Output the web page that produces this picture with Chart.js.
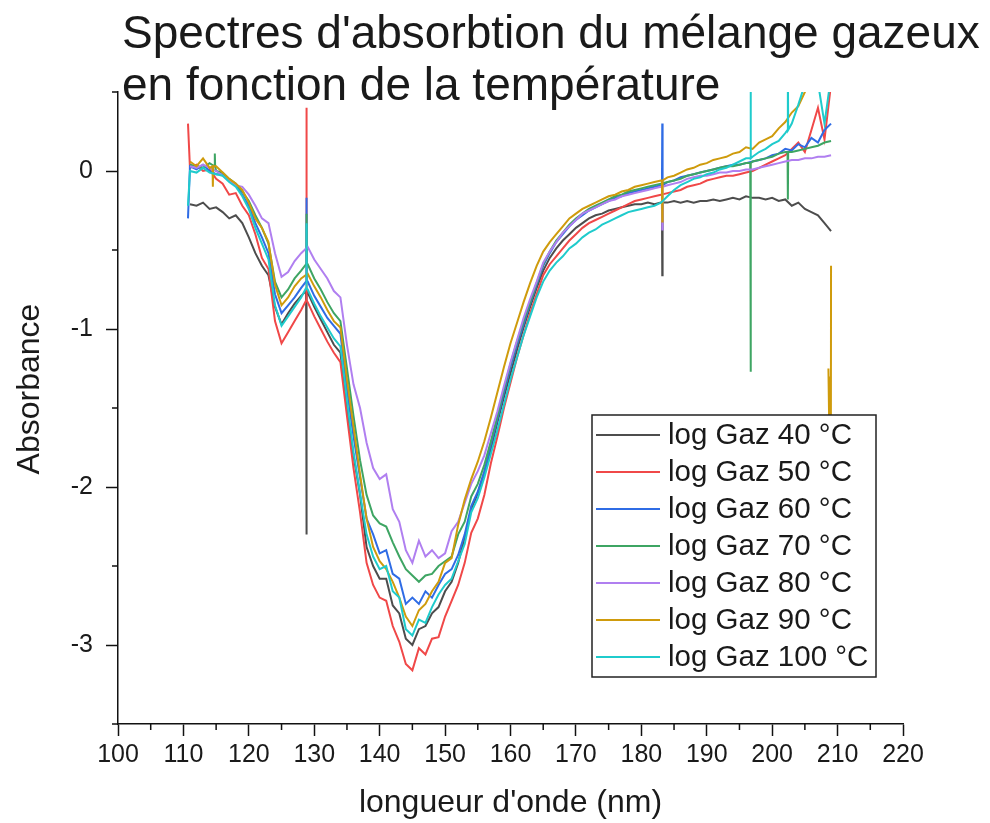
<!DOCTYPE html>
<html>
<head>
<meta charset="utf-8">
<script src="https://cdn.jsdelivr.net/npm/chart.js@4.4.1/dist/chart.umd.min.js"></script>
<style>
  html, body { margin: 0; padding: 0; background: #fff; }
  canvas { display: block; }
</style>
</head>
<body>
<canvas id="spectres" width="990" height="823"></canvas>
<script>
// Longueurs d'onde (nm), pas de 1 nm
const wavelengths = [
  111, 112, 113, 114, 115, 116, 117, 118, 119, 120,
  121, 122, 123, 124, 125, 126, 127, 128, 129, 130,
  131, 132, 133, 134, 135, 136, 137, 138, 139, 140,
  141, 142, 143, 144, 145, 146, 147, 148, 149, 150,
  151, 152, 153, 154, 155, 156, 157, 158, 159, 160,
  161, 162, 163, 164, 165, 166, 167, 168, 169, 170,
  171, 172, 173, 174, 175, 176, 177, 178, 179, 180,
  181, 182, 183, 184, 185, 186, 187, 188, 189, 190,
  191, 192, 193, 194, 195, 196, 197, 198, 199, 200,
  201, 202, 203, 204, 205, 206, 207, 208, 209
];

// Absorbance (log) par température
const gaz40 = [
  -0.21, -0.22, -0.20, -0.24, -0.23, -0.26, -0.30, -0.28, -0.33, -0.42,
  -0.52, -0.60, -0.66, -0.86, -0.97, -0.90, -0.84, -0.79, -0.77, -0.86,
  -0.94, -1.02, -1.10, -1.15, -1.50, -1.80, -2.05, -2.38, -2.50, -2.58,
  -2.58, -2.75, -2.80, -2.96, -3.00, -2.90, -2.88, -2.80, -2.76, -2.66,
  -2.60, -2.48, -2.32, -2.14, -2.04, -1.91, -1.76, -1.59, -1.43, -1.28,
  -1.13, -0.99, -0.86, -0.74, -0.63, -0.55, -0.49, -0.44, -0.40, -0.36,
  -0.33, -0.30, -0.28, -0.27, -0.25, -0.24, -0.23, -0.22, -0.21, -0.21,
  -0.20, -0.21, -0.20, -0.20, -0.19, -0.20, -0.19, -0.20, -0.19, -0.19,
  -0.18, -0.19, -0.18, -0.17, -0.18, -0.16, -0.17, -0.17, -0.18, -0.17,
  -0.19, -0.18, -0.22, -0.20, -0.24, -0.26, -0.28, -0.33, -0.38
];
const gaz50 = [
  0.02, 0.04, 0.00, 0.01, -0.05, -0.08, -0.15, -0.14, -0.22, -0.28,
  -0.40, -0.55, -0.62, -0.95, -1.09, -1.02, -0.95, -0.88, -0.83, -0.92,
  -1.00, -1.08, -1.15, -1.21, -1.55, -1.88, -2.16, -2.48, -2.62, -2.70,
  -2.72, -2.88, -2.98, -3.12, -3.16, -3.02, -3.06, -2.96, -2.95, -2.82,
  -2.72, -2.62, -2.48, -2.29, -2.20, -2.05, -1.85, -1.68, -1.50, -1.34,
  -1.18, -1.04, -0.90, -0.78, -0.66, -0.59, -0.54, -0.49, -0.44, -0.40,
  -0.36, -0.33, -0.31, -0.29, -0.27, -0.25, -0.23, -0.21, -0.19, -0.18,
  -0.17, -0.16, -0.15, -0.14, -0.13, -0.12, -0.10, -0.09, -0.08, -0.06,
  -0.05, -0.04, -0.03, -0.03, -0.02, -0.01, 0.00, 0.02, 0.04, 0.06,
  0.08, 0.10, 0.14, 0.18, 0.12, 0.26, 0.40, 0.20, 0.55
];
const gaz60 = [
  0.03, 0.01, 0.04, 0.00, -0.02, -0.02, -0.06, -0.09, -0.15, -0.22,
  -0.33, -0.42, -0.52, -0.78, -0.90, -0.85, -0.80, -0.74, -0.70, -0.79,
  -0.86, -0.93, -0.98, -1.03, -1.38, -1.68, -1.94, -2.20, -2.30, -2.42,
  -2.40, -2.55, -2.58, -2.74, -2.70, -2.74, -2.66, -2.70, -2.62, -2.55,
  -2.52, -2.43, -2.30, -2.12, -2.03, -1.90, -1.73, -1.57, -1.40, -1.24,
  -1.10, -0.97, -0.84, -0.72, -0.60, -0.52, -0.45, -0.40, -0.35, -0.31,
  -0.28, -0.25, -0.23, -0.21, -0.19, -0.17, -0.16, -0.14, -0.13, -0.12,
  -0.11, -0.10, -0.09, -0.07, -0.06, -0.04, -0.03, -0.02, -0.01, 0.00,
  0.01, 0.02, 0.03, 0.04, 0.04, 0.05, 0.06, 0.07, 0.08, 0.10,
  0.11, 0.14, 0.13, 0.17, 0.15, 0.21, 0.18, 0.26, 0.30
];
const gaz70 = [
  0.04, 0.03, 0.02, 0.05, 0.00, -0.01, -0.05, -0.08, -0.13, -0.19,
  -0.28, -0.36, -0.46, -0.70, -0.80, -0.75, -0.68, -0.63, -0.59, -0.68,
  -0.75, -0.83, -0.90, -0.95, -1.25, -1.55, -1.83, -2.05, -2.18, -2.23,
  -2.25, -2.35, -2.44, -2.52, -2.56, -2.60, -2.56, -2.55, -2.50, -2.47,
  -2.44, -2.30, -2.22, -2.06, -1.98, -1.86, -1.71, -1.55, -1.38, -1.22,
  -1.08, -0.95, -0.83, -0.71, -0.59, -0.51, -0.44, -0.39, -0.34, -0.30,
  -0.27, -0.24, -0.22, -0.20, -0.18, -0.16, -0.15, -0.13, -0.12, -0.11,
  -0.10, -0.09, -0.08, -0.07, -0.06, -0.05, -0.03, -0.02, -0.01, 0.00,
  0.01, 0.02, 0.03, 0.03, 0.04, 0.05, 0.06, 0.07, 0.08, 0.09,
  0.11, 0.12, 0.12, 0.13, 0.14, 0.15, 0.16, 0.18, 0.19
];
const gaz80 = [
  0.03, 0.02, 0.04, 0.02, 0.00, -0.03, -0.06, -0.09, -0.10, -0.15,
  -0.22, -0.30, -0.33, -0.52, -0.67, -0.64, -0.57, -0.52, -0.48, -0.56,
  -0.62, -0.68, -0.76, -0.80, -1.10, -1.35, -1.50, -1.72, -1.88, -1.95,
  -1.92, -2.14, -2.22, -2.40, -2.48, -2.34, -2.44, -2.40, -2.45, -2.42,
  -2.28, -2.22, -2.10, -1.98, -1.90, -1.80, -1.66, -1.52, -1.36, -1.21,
  -1.07, -0.93, -0.81, -0.70, -0.58, -0.51, -0.45, -0.39, -0.35, -0.31,
  -0.27, -0.25, -0.23, -0.21, -0.19, -0.18, -0.16, -0.15, -0.14, -0.13,
  -0.12, -0.11, -0.10, -0.09, -0.08, -0.07, -0.05, -0.04, -0.03, -0.03,
  -0.02, -0.01, -0.01, 0.00, 0.00, 0.01, 0.01, 0.02, 0.03, 0.04,
  0.05, 0.06, 0.07, 0.07, 0.08, 0.08, 0.09, 0.09, 0.10
];
const gaz90 = [
  0.06, 0.03, 0.08, 0.02, 0.03, -0.01, -0.05, -0.08, -0.12, -0.20,
  -0.30, -0.36, -0.45, -0.72, -0.85, -0.80, -0.73, -0.68, -0.65, -0.73,
  -0.80, -0.88, -0.95, -0.99, -1.32, -1.62, -1.92, -2.20, -2.38, -2.47,
  -2.52, -2.60, -2.70, -2.82, -2.88, -2.78, -2.74, -2.66, -2.60, -2.48,
  -2.45, -2.24, -2.08, -1.95, -1.84, -1.71, -1.56, -1.40, -1.24, -1.09,
  -0.96, -0.83, -0.71, -0.60, -0.51, -0.45, -0.40, -0.35, -0.30, -0.27,
  -0.24, -0.22, -0.20, -0.18, -0.16, -0.15, -0.13, -0.12, -0.10, -0.09,
  -0.08, -0.07, -0.06, -0.04, -0.03, -0.01, 0.01, 0.02, 0.04, 0.05,
  0.07, 0.08, 0.09, 0.11, 0.12, 0.15, 0.14, 0.18, 0.20, 0.22,
  0.27, 0.31, 0.37, 0.41, 0.50, 0.56, 0.60, null, -0.60
];
const gaz100 = [
  0.00, -0.01, 0.02, -0.01, -0.02, -0.03, -0.07, -0.10, -0.16, -0.24,
  -0.36, -0.46, -0.56, -0.85, -0.98, -0.92, -0.86, -0.80, -0.75, -0.84,
  -0.92, -0.99, -1.06, -1.11, -1.45, -1.78, -2.04, -2.30, -2.44, -2.52,
  -2.50, -2.66, -2.70, -2.90, -2.94, -2.84, -2.86, -2.76, -2.68, -2.62,
  -2.58, -2.47, -2.36, -2.16, -2.07, -1.94, -1.79, -1.64, -1.48, -1.32,
  -1.18, -1.04, -0.92, -0.80, -0.70, -0.63, -0.58, -0.54, -0.49, -0.46,
  -0.42, -0.39, -0.37, -0.34, -0.32, -0.30, -0.28, -0.26, -0.25, -0.24,
  -0.23, -0.22, -0.20, -0.16, -0.12, -0.09, -0.07, -0.05, -0.04, -0.02,
  -0.01, 0.01, 0.02, 0.04, 0.06, 0.08, 0.09, 0.12, 0.14, 0.17,
  0.19, 0.24, 0.30, 0.42, 0.55, 0.62, 0.56, 0.30, 0.60
];

// Pics isolés (artefacts de mesure) : [longueur d'onde, absorbance]
const spikes40 = [[128.75, -0.76], [128.8, -2.30], [128.85, -0.76], [183.15, -0.20], [183.2, -0.66], [183.25, -0.20]];
const spikes50 = [[110.7, 0.30], [128.75, -0.82], [128.8, 0.40], [128.85, -0.82]];
const spikes60 = [[110.7, -0.30], [128.75, -0.70], [128.8, -0.17], [128.85, -0.70], [183.15, -0.09], [183.2, 0.30], [183.25, -0.09]];
const spikes70 = [[114.75, 0.03], [114.8, 0.11], [114.85, 0.03], [128.75, -0.59], [128.8, -0.27], [128.85, -0.59],
                  [196.65, 0.05], [196.7, -1.27], [196.75, 0.05], [202.35, 0.12], [202.4, -0.18], [202.45, 0.12]];
const spikes80 = [[183.15, -0.10], [183.2, -0.37], [183.25, -0.10]];
const spikes90 = [[114.45, 0.03], [114.5, -0.10], [114.55, 0.03], [183.15, -0.06], [183.2, -0.32], [183.25, -0.06],
                  [208.6, -1.25], [208.7, -1.55], [208.8, -1.30], [208.95, -2.60]];
const spikes100 = [[110.7, -0.22], [128.75, -0.74], [128.8, -0.33], [128.85, -0.74],
                   [196.65, 0.08], [196.7, 0.70], [196.75, 0.08], [202.35, 0.26], [202.4, 0.70], [202.45, 0.26]];

const seriesLabels = ['log Gaz 40 °C', 'log Gaz 50 °C', 'log Gaz 60 °C', 'log Gaz 70 °C',
                      'log Gaz 80 °C', 'log Gaz 90 °C', 'log Gaz 100 °C'];
const seriesValues = [gaz40, gaz50, gaz60, gaz70, gaz80, gaz90, gaz100];
const seriesSpikes = [spikes40, spikes50, spikes60, spikes70, spikes80, spikes90, spikes100];
const seriesColors = ['#4d4d4d', '#f04848', '#2f6ce5', '#3ea563', '#b07ff0', '#cf9b0c', '#1fcbcc'];

const titleLines = ["Spectres d'absorbtion du mélange gazeux", 'en fonction de la température'];
const yAxisTitle = 'Absorbance';
const yMajorTicks = [-3, -2, -1, 0];
const xMinorTicks = [105, 115, 125, 135, 145, 155, 165, 175, 185, 195, 205, 215];
const yMinorTicks = [-3.5, -2.5, -1.5, -0.5, 0.5];

const FONT = "'Liberation Sans', Arial, sans-serif";
const TEXT = '#1a1a1a';

// Fusionne la grille et les pics, triés par longueur d'onde
function buildPoints(values, extras) {
  const pts = wavelengths.map((x, i) => ({ x: x, y: values[i] }));
  extras.forEach(([x, y]) => pts.push({ x: x, y: y }));
  pts.sort((a, b) => a.x - b.x);
  return pts;
}

// Titre, titre vertical, graduations secondaires et légende encadrée
const decorPlugin = {
  id: 'decor',
  afterDatasetsDraw(chart) {
    const ctx = chart.ctx;
    const area = chart.chartArea;
    // légende (par-dessus les courbes)
    const boxLeft = area.left + 474;
    const boxTop = 415;
    const rowH = 37;
    const boxW = 284;
    const boxH = rowH * seriesLabels.length + 3;
    ctx.save();
    ctx.fillStyle = '#fff';
    ctx.fillRect(boxLeft, boxTop, boxW, boxH);
    ctx.strokeStyle = '#222';
    ctx.lineWidth = 1.5;
    ctx.strokeRect(boxLeft, boxTop, boxW, boxH);
    ctx.font = '29.5px ' + FONT;
    ctx.textBaseline = 'middle';
    ctx.textAlign = 'left';
    seriesLabels.forEach((lab, i) => {
      const cy = boxTop + 20 + i * rowH;
      ctx.strokeStyle = seriesColors[i];
      ctx.lineWidth = 2;
      ctx.beginPath();
      ctx.moveTo(boxLeft + 4, cy);
      ctx.lineTo(boxLeft + 68, cy);
      ctx.stroke();
      ctx.fillStyle = TEXT;
      ctx.fillText(lab, boxLeft + 76, cy + 1);
    });
    ctx.restore();
  },
  afterDraw(chart) {
    const ctx = chart.ctx;
    const area = chart.chartArea;
    const xs = chart.scales.x;
    const ys = chart.scales.y;
    ctx.save();
    ctx.strokeStyle = '#111';
    ctx.lineWidth = 1.5;
    ctx.beginPath();
    xMinorTicks.forEach(v => {
      const px = xs.getPixelForValue(v);
      ctx.moveTo(px, area.bottom);
      ctx.lineTo(px, area.bottom + 6);
    });
    yMinorTicks.forEach(v => {
      const py = ys.getPixelForValue(v);
      ctx.moveTo(area.left, py);
      ctx.lineTo(area.left - 6, py);
    });
    ctx.stroke();

    ctx.fillStyle = TEXT;
    ctx.font = '46px ' + FONT;
    ctx.textAlign = 'left';
    ctx.textBaseline = 'alphabetic';
    titleLines.forEach((line, i) => {
      ctx.fillText(line, area.left + 4, 48 + i * 52);
    });

    // titre de l'axe vertical
    ctx.translate(30, 389);
    ctx.rotate(-Math.PI / 2);
    ctx.font = '32px ' + FONT;
    ctx.textAlign = 'center';
    ctx.textBaseline = 'middle';
    ctx.fillText(yAxisTitle, 0, 0);
    ctx.restore();
  }
};

const datasets = seriesLabels.map((label, i) => ({
  label: label,
  data: buildPoints(seriesValues[i], seriesSpikes[i]),
  borderColor: seriesColors[i],
  backgroundColor: seriesColors[i],
  borderWidth: 2,
  pointRadius: 0,
  tension: 0,
  spanGaps: false,
  order: seriesLabels.length - 1 - i
}));

new Chart(document.getElementById('spectres'), {
  type: 'line',
  data: { datasets: datasets },
  options: {
    responsive: false,
    animation: false,
    layout: { padding: { top: 92, right: 87, left: 0, bottom: 0 } },
    plugins: {
      legend: { display: false },
      tooltip: { enabled: false },
      title: { display: false }
    },
    scales: {
      x: {
        type: 'linear',
        min: 100,
        max: 220,
        ticks: {
          stepSize: 10,
          autoSkip: false,
          maxRotation: 0,
          padding: 4,
          color: TEXT,
          font: { family: FONT, size: 25 }
        },
        grid: { drawOnChartArea: false, tickLength: 12, tickWidth: 1.5, tickColor: '#111' },
        border: { color: '#111', width: 1.5 },
        title: {
          display: true,
          text: "longueur d'onde (nm)",
          color: TEXT,
          font: { family: FONT, size: 32 },
          padding: { top: 0, bottom: 1 }
        },
        afterFit(scale) { scale.height = 99; }
      },
      y: {
        type: 'linear',
        min: -3.5,
        max: 0.5,
        afterBuildTicks(scale) {
          scale.ticks = yMajorTicks.map(v => ({ value: v }));
        },
        ticks: {
          padding: 13,
          color: TEXT,
          font: { family: FONT, size: 25 }
        },
        grid: { drawOnChartArea: false, tickLength: 12, tickWidth: 1.5, tickColor: '#111' },
        border: { color: '#111', width: 1.5 },
        afterFit(scale) { scale.width = 118; }
      }
    }
  },
  plugins: [decorPlugin]
});
</script>
</body>
</html>
